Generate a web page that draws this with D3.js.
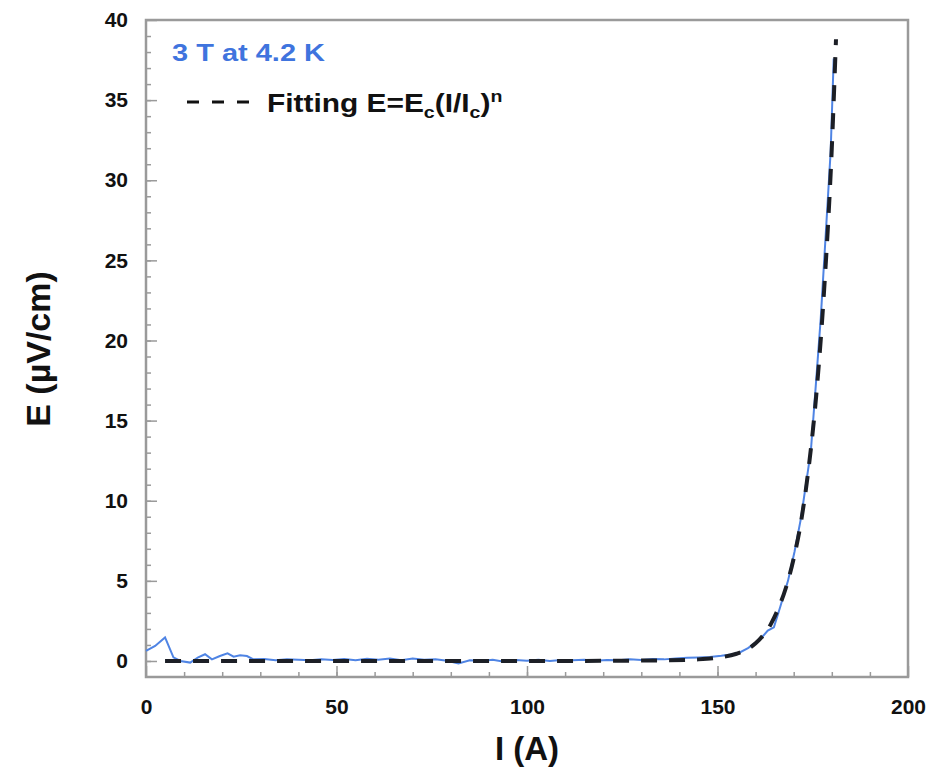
<!DOCTYPE html>
<html>
<head>
<meta charset="utf-8">
<script src="https://cdn.jsdelivr.net/npm/d3@7"></script>
<style>
  body { margin: 0; background: #fff; }
  svg { display: block; font-family: "Liberation Sans", Arial, sans-serif; }
</style>
</head>
<body>
<svg id="chart" width="938" height="768"></svg>
<script>
// measured E-I curve (blue)
const measI = [0, 2.4, 5, 7.2, 9, 11.6, 13.7, 15.5, 17.3, 19.4, 21.4, 23, 24.7, 26.5, 28.2,
  31, 34, 37, 40, 43, 46, 49, 52, 55, 58, 61, 64, 67, 70, 73, 76, 79, 82, 85, 88, 91, 94, 97,
  100, 103, 106, 109, 112, 115, 118, 121, 124, 127, 130, 133, 136, 139, 142, 145, 148, 151,
  153.5, 155.6, 158, 161, 163.2, 164.8, 166.5, 168.5, 170.2, 171.9, 173.2, 174.5, 175.8,
  177.1, 178.4, 179.7, 180.5]
const measE = [0.63, 0.94, 1.47, 0.23, 0, -0.1, 0.23, 0.42, 0.1, 0.31, 0.48, 0.27, 0.35, 0.31, 0.1,
  0.12, 0.05, 0.1, 0.08, 0.04, 0.1, 0.06, 0.12, 0.05, 0.14, 0.08, 0.16, 0.04, 0.15, 0.07, 0.1, 0.02, -0.15, 0.05, 0, 0.08, -0.05, 0.06,
  0.02, 0.08, 0, 0.06, 0.04, 0.07, 0.02, 0.06, 0.05, 0.1, 0.06, 0.12, 0.1, 0.16, 0.2, 0.22, 0.25, 0.32,
  0.4, 0.5, 0.8, 1.3, 1.9, 2.1, 3.4, 5.0, 6.8, 8.9, 11, 13.1, 17.2,
  21.4, 26.6, 31.8, 37.6]

// power-law fit (dashed)
const fitI = [5, 20, 40, 60, 80, 100, 120, 135, 145, 150, 155, 158, 160, 162, 164, 166, 168, 170, 172, 174, 176, 178, 180, 181.1]
const fitE = [0, 0, 0, 0, 0, 0, 0.01, 0.04, 0.1, 0.2, 0.45, 0.75, 1.1, 1.6, 2.3, 3.3, 4.6, 6.4, 8.8, 12.2, 16.8, 23.2, 32, 38.8]

const xTicks = [0, 50, 100, 150, 200]
const yTicks = [0, 5, 10, 15, 20, 25, 30, 35, 40]

const svg = d3.select("#chart")
const width = 938, height = 768
const margin = { top: 20, right: 30, bottom: 91, left: 146 }

const x = d3.scaleLinear().domain([0, 200]).range([margin.left, width - margin.right])
const y = d3.scaleLinear().domain([-1, 40]).range([height - margin.bottom, margin.top])

const frameColor = "#9a9a9a"

// minor ticks (inside)
svg.append("g")
  .attr("transform", `translate(${margin.left},0)`)
  .call(d3.axisLeft(y).tickValues(d3.range(0, 40, 1)).tickSizeInner(-5).tickSizeOuter(0).tickFormat(""))
  .call((g) => g.select(".domain").remove())
  .call((g) => g.selectAll("line").attr("stroke", frameColor).attr("stroke-width", 1.5))

svg.append("g")
  .attr("transform", `translate(0,${height - margin.bottom})`)
  .call(d3.axisBottom(x).tickValues(d3.range(10, 200, 10)).tickSizeInner(-5).tickSizeOuter(0).tickFormat(""))
  .call((g) => g.select(".domain").remove())
  .call((g) => g.selectAll("line").attr("stroke", frameColor).attr("stroke-width", 1.5))

// major ticks + labels
const yAxis = svg.append("g")
  .attr("transform", `translate(${margin.left},0)`)
  .call(d3.axisLeft(y).tickValues(yTicks).tickSizeInner(-11).tickSizeOuter(0).tickPadding(18))
yAxis.select(".domain").remove()
yAxis.selectAll("line").attr("stroke", frameColor).attr("stroke-width", 1.5)
yAxis.selectAll("text")
  .attr("font-size", 21).attr("font-weight", "bold").attr("fill", "#111")
  .attr("font-family", "'Liberation Sans', Arial, sans-serif")

const xAxis = svg.append("g")
  .attr("transform", `translate(0,${height - margin.bottom})`)
  .call(d3.axisBottom(x).tickValues(xTicks).tickSizeInner(-11).tickSizeOuter(0).tickPadding(22))
xAxis.select(".domain").remove()
xAxis.selectAll("line").attr("stroke", frameColor).attr("stroke-width", 1.5)
xAxis.selectAll("text")
  .attr("font-size", 21).attr("font-weight", "bold").attr("fill", "#111")
  .attr("font-family", "'Liberation Sans', Arial, sans-serif")

// frame
svg.append("rect")
  .attr("x", margin.left).attr("y", margin.top)
  .attr("width", width - margin.left - margin.right)
  .attr("height", height - margin.top - margin.bottom)
  .attr("fill", "none").attr("stroke", frameColor).attr("stroke-width", 2.5)

// data
const meas = measI.map((v, i) => [v, measE[i]])
const fit = fitI.map((v, i) => [v, fitE[i]])

svg.append("path")
  .datum(meas)
  .attr("fill", "none")
  .attr("stroke", "#4f84e4")
  .attr("stroke-width", 2)
  .attr("d", d3.line().x((d) => x(d[0])).y((d) => y(d[1])))

svg.append("path")
  .datum(fit)
  .attr("fill", "none")
  .attr("stroke", "#1c1f26")
  .attr("stroke-width", 4)
  .attr("stroke-dasharray", "16,12")
  .attr("d", d3.line().curve(d3.curveMonotoneX).x((d) => x(d[0])).y((d) => y(d[1])))

// legend
svg.append("text")
  .attr("x", 172).attr("y", 61)
  .attr("font-size", 23).attr("font-weight", "bold").attr("fill", "#3f74de")
  .attr("textLength", 153).attr("lengthAdjust", "spacingAndGlyphs")
  .text("3 T at 4.2 K")

svg.append("line")
  .attr("x1", 187).attr("x2", 252).attr("y1", 102).attr("y2", 102)
  .attr("stroke", "#111").attr("stroke-width", 3).attr("stroke-dasharray", "12,13")

const fitLabel = svg.append("text")
  .attr("transform", "translate(267,112) scale(1.15,1)")
  .attr("font-size", 26).attr("font-weight", "bold").attr("fill", "#111")
fitLabel.append("tspan").text("Fitting E=E")
fitLabel.append("tspan").attr("font-size", 17).attr("dy", 6).text("c")
fitLabel.append("tspan").attr("dy", -6).text("(I/I")
fitLabel.append("tspan").attr("font-size", 17).attr("dy", 6).text("c")
fitLabel.append("tspan").attr("dy", -6).text(")")
fitLabel.append("tspan").attr("font-size", 17).attr("dy", -10).text("n")

// axis titles
svg.append("text")
  .attr("x", 527).attr("y", 760)
  .attr("text-anchor", "middle")
  .attr("font-size", 33).attr("font-weight", "bold").attr("fill", "#111")
  .text("I (A)")

svg.append("text")
  .attr("transform", "translate(50,349) rotate(-90)")
  .attr("text-anchor", "middle")
  .attr("font-size", 34).attr("font-weight", "bold").attr("fill", "#111")
  .text("E (\u00b5V/cm)")
</script>
</body>
</html>
